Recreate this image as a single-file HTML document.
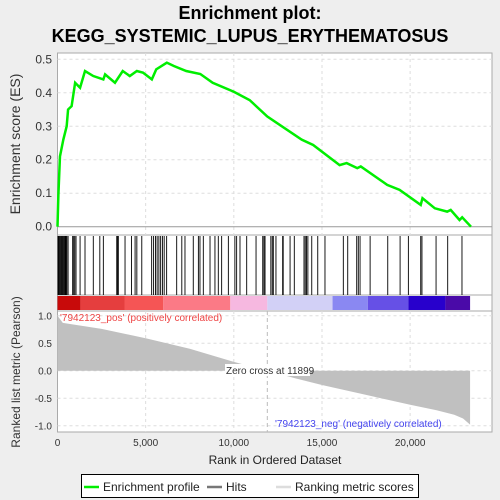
<!DOCTYPE html>
<html><head><meta charset="utf-8"><style>
body{margin:0;background:#eeeeee;font-family:"Liberation Sans",sans-serif}
svg{display:block}
</style></head><body>
<svg width="500" height="500" viewBox="0 0 500 500" font-family="Liberation Sans, sans-serif">
<rect width="500" height="500" fill="#eeeeee"/>
<text x="250" y="19" text-anchor="middle" font-size="18" font-weight="bold">Enrichment plot:</text>
<text x="250" y="42" text-anchor="middle" font-size="18" font-weight="bold">KEGG_SYSTEMIC_LUPUS_ERYTHEMATOSUS</text>
<rect x="57.5" y="53" width="434.5" height="182" fill="#fff" stroke="#aaa"/>
<rect x="57.5" y="235" width="434.5" height="60" fill="#fff" stroke="#aaa"/>
<rect x="57.5" y="295" width="434.5" height="16" fill="#fff" stroke="#aaa"/>
<rect x="57.5" y="311" width="434.5" height="121" fill="#fff" stroke="#aaa"/>
<g id="grid"></g>
<g id="colorbar"></g>
<g id="metric"></g>
<g id="hits"></g>
<g id="es"></g>
<g id="axes" font-size="12" fill="#333"></g>
<text x="20" y="144" transform="rotate(-90 20 144)" text-anchor="middle" font-size="14" fill="#333">Enrichment score (ES)</text>
<text x="20" y="372" transform="rotate(-90 20 372)" text-anchor="middle" font-size="12" fill="#333">Ranked list metric (Pearson)</text>
<text x="275" y="464" text-anchor="middle" font-size="12" fill="#222">Rank in Ordered Dataset</text>
<text x="60" y="321" font-size="10" fill="#ee4444">'7942123_pos' (positively correlated)</text>
<text x="275" y="427" font-size="10" fill="#4444ee">'7942123_neg' (negatively correlated)</text>
<rect x="225" y="364" width="85" height="12" fill="#fff"/>
<text x="226" y="374" font-size="10" fill="#333">Zero cross at 11899</text>
<g>
<rect x="81.5" y="474.5" width="337" height="23" fill="#fff" stroke="#000"/>
<line x1="84" y1="487" x2="99" y2="487" stroke="#00ee00" stroke-width="2.5"/>
<text x="103" y="491" font-size="12" fill="#222">Enrichment profile</text>
<line x1="207" y1="487" x2="222" y2="487" stroke="#777" stroke-width="2.5"/>
<text x="226" y="491" font-size="12" fill="#222">Hits</text>
<line x1="276" y1="487" x2="291" y2="487" stroke="#ddd" stroke-width="2.5"/>
<text x="295" y="491" font-size="12" fill="#222">Ranking metric scores</text>
</g>
</svg>
<script>
const esRanks=[0,50,140,330,520,600,800,1000,1280,1560,2030,2600,2700,3260,3700,4100,4500,4850,5350,5600,6200,6600,7300,8100,8800,10000,10900,11900,13850,14500,16000,16400,17000,17200,18700,19400,20600,20700,21400,22100,22300,22800,22950,23450];
const esValues=[0,0.095,0.21,0.26,0.3,0.35,0.36,0.43,0.415,0.465,0.45,0.44,0.455,0.43,0.465,0.45,0.465,0.46,0.44,0.47,0.49,0.48,0.465,0.456,0.43,0.403,0.378,0.329,0.26,0.244,0.184,0.19,0.175,0.18,0.125,0.11,0.065,0.085,0.055,0.045,0.05,0.02,0.028,0];
const hitRanks=[30,80,130,180,230,280,330,380,430,480,530,600,860,920,980,1050,1280,1560,2030,2400,2600,3360,3400,3450,3830,4200,4400,4500,4780,5340,5450,5560,5650,5750,5850,5950,6050,6190,6760,7050,7230,7700,7990,8080,8270,8650,8930,9120,9310,9690,10060,10160,10350,10730,11260,11640,11710,11770,12100,12180,12240,12390,12770,12800,13190,13430,13980,14050,14120,14200,14420,14760,15170,16210,16460,16970,17060,17160,17730,18730,19430,19900,20600,20670,21470,22130,22940];
const metricRanks=[0,300,2500,5000,7500,10000,11899,13500,15000,17500,20000,21500,22500,23000,23400];
const metricValues=[1.0,0.87,0.76,0.59,0.4,0.16,0,-0.14,-0.26,-0.44,-0.62,-0.72,-0.8,-0.87,-0.98];
const xTicks=[0,5000,10000,15000,20000];
const xTickLabels=["0","5,000","10,000","15,000","20,000"];
const esTicks=[0,0.1,0.2,0.3,0.4,0.5];
const metricTicks=[1,0.5,0,-0.5,-1];
const metricTickLabels=["1.0","0.5","0.0","-0.5","-1.0"];
const cbStops=[0,1300,3800,6000,9800,11900,15600,17600,19900,22000,23400];
const cbColors=["#c80a0a","#e53e3e","#f55555","#fb7a86","#f6b8e0","#d2d0f6","#8a88f2","#6650e6","#2800cc","#4a0aa8"];
const NS="http://www.w3.org/2000/svg";
const X=r=>57.5+r*0.017632;
const YE=v=>226.7-v*334.8;
const YM=v=>370.7-v*55;
function mk(tag,attrs,parent){const e=document.createElementNS(NS,tag);for(const k in attrs)e.setAttribute(k,attrs[k]);document.getElementById(parent).appendChild(e);return e;}
// grid
xTicks.forEach(t=>{
 if(t===0)return;
 let g=mk('line',{x1:X(t),x2:X(t),y1:53,y2:235,stroke:'#ddd','stroke-dasharray':'3,3'},'grid');
 
 
 let g2=mk('line',{x1:X(t),x2:X(t),y1:311,y2:432,stroke:'#ddd','stroke-dasharray':'3,3'},'grid');
 
 
});
esTicks.forEach(t=>{
 let g=mk('line',{x1:57.5,x2:492,y1:YE(t),y2:YE(t),stroke:t===0?'#999':'#ddd','stroke-dasharray':t===0?'':'3,3'},'grid');
 
 
});
metricTicks.forEach(t=>{
 let g=mk('line',{x1:57.5,x2:492,y1:YM(t),y2:YM(t),stroke:'#ddd','stroke-dasharray':'3,3'},'grid');
 
 
});
let zl=mk('line',{x1:X(11899),x2:X(11899),y1:311,y2:432,stroke:'#bbb','stroke-dasharray':'4,3'},'grid');


// colorbar
cbColors.forEach((c,i)=>{
 let r=mk('rect',{x:X(cbStops[i]),y:296,width:X(cbStops[i+1])-X(cbStops[i]),height:14,fill:c},'colorbar');
 
 
});
// metric area
let d='M'+X(metricRanks[0])+','+YM(0);
metricRanks.forEach((r,i)=>{d+=' L'+X(r)+','+YM(metricValues[i]);});
d+=' L'+X(metricRanks[metricRanks.length-1])+','+YM(0)+' Z';
let ma=mk('path',{d:d,fill:'#c0c0c0'},'metric');


// hits
hitRanks.forEach(r=>{
 let l=mk('line',{x1:X(r),x2:X(r),y1:236,y2:295,stroke:'#000','stroke-width':0.9},'hits');
 
 
});
// es line
let p=esRanks.map((r,i)=>X(r)+','+YE(esValues[i])).join(' ');
let es=mk('polyline',{points:p,fill:'none',stroke:'#00ee00','stroke-width':2.5},'es');


// axes labels
esTicks.forEach(t=>{
 let tx=mk('text',{x:52,y:YE(t)+4,'text-anchor':'end','font-size':12},'axes');
 tx.textContent=t.toFixed(1);
 
 
});
metricTicks.forEach((t,i)=>{
 let tx=mk('text',{x:52,y:YM(t)+4,'text-anchor':'end','font-size':10},'axes');
 tx.textContent=metricTickLabels[i];
 
 
});
xTicks.forEach((t,i)=>{
 let tx=mk('text',{x:X(t),y:446,'text-anchor':'middle','font-size':10},'axes');
 tx.textContent=xTickLabels[i];
 
 
});
</script>
</body></html>
